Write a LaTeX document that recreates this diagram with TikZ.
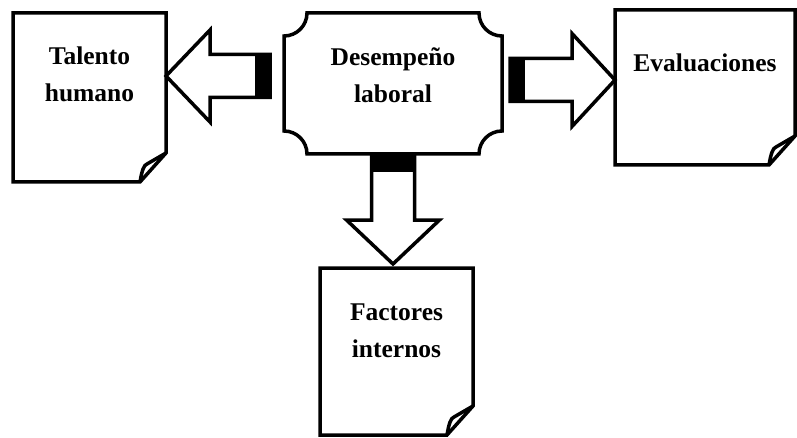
\documentclass[tikz,border=0pt]{standalone}
\usepackage{fontspec}
\setmainfont{Liberation Serif}
\usetikzlibrary{positioning, calc}

\begin{document}
\begin{tikzpicture}[
  x=1pt, y=1pt,
  doc/.style = {minimum width=153pt, minimum height=169pt, inner sep=0pt, outer sep=0pt},
  centro/.style = {minimum width=218pt, minimum height=141pt, inner sep=0pt, outer sep=0pt},
  doctext/.style = {align=center, font=\fontsize{25.5}{37}\selectfont\bfseries},
  borde/.style = {draw, line width=3.5pt, line join=miter},
  flecha/.style = {draw, fill=white, line width=3.5pt, line join=miter},
  tope/.style = {fill=black}
]
  \useasboundingbox (0,0) rectangle (797,437);

  % Central block
  \node[centro, label={[doctext, yshift=8.5pt]center:Desempeño\\laboral}] (desempeno) at (393,353.5) {};
  \draw[borde] ([xshift=23]desempeno.north west) -- ([xshift=-23]desempeno.north east)
    arc[start angle=180, end angle=270, radius=23pt] -- ([yshift=23]desempeno.south east)
    arc[start angle=90, end angle=180, radius=23pt] -- ([xshift=23]desempeno.south west)
    arc[start angle=0, end angle=90, radius=23pt] -- ([yshift=-23]desempeno.north west)
    arc[start angle=270, end angle=360, radius=23pt] -- cycle;

  % Documents
  \node[doc, left=118pt of desempeno, yshift=-14pt,
        label={[doctext, yshift=23.5pt]center:Talento\\humano}] (talento) {};
  \node[doc, minimum width=180pt, minimum height=155pt, right=113pt of desempeno, yshift=-4pt,
        label={[doctext, yshift=24.5pt]center:Evaluaciones}] (evaluaciones) {};
  \node[doc, minimum height=167pt, below=114pt of desempeno, xshift=3.5pt,
        label={[doctext, yshift=21pt]center:Factores\\internos}] (factores) {};

  \foreach \n in {talento, evaluaciones, factores} {
    \draw[borde] (\n.north west) -- (\n.north east) -- ([yshift=29]\n.south east)
      -- ([xshift=-26]\n.south east) -- (\n.south west) -- cycle;
    \draw[borde] ([xshift=-26]\n.south east) .. controls ([xshift=-24,yshift=12]\n.south east)
      and ([xshift=-22,yshift=17]\n.south east) .. ([xshift=-19,yshift=18]\n.south east)
      -- ([yshift=29]\n.south east);
  }

  % Arrow to talento
  \coordinate (l1) at ($(desempeno.west)+(-14,7.5)$);
  \coordinate (l2) at (talento.east |- l1);
  \draw[flecha] (l2) -- ++(44,46) |- ($(l1)+(0,21.5)$) -- ($(l1)+(0,-21.5)$)
    -| ($(l2)+(44,-46)$) -- cycle;
  \fill[tope] ($(l1)+(-15,21.5)$) rectangle ($(l1)+(0,-21.5)$);

  % Arrow to evaluaciones
  \coordinate (r1) at ($(desempeno.east)+(8,3.5)$);
  \coordinate (r2) at (evaluaciones.west |- r1);
  \draw[flecha] (r2) -- ++(-43,46.5) |- ($(r1)+(0,21.5)$) -- ($(r1)+(0,-21.5)$)
    -| ($(r2)+(-43,-46.5)$) -- cycle;
  \fill[tope] ($(r1)+(0,21.5)$) rectangle ($(r1)+(15,-21.5)$);

  % Arrow to factores
  \coordinate (d1) at (desempeno.south);
  \coordinate (d2) at ($(factores.north -| d1)+(0,4)$);
  \draw[flecha] (d2) -- ++(46.5,44) -| ($(d1)+(21.5,0)$) -- ($(d1)+(-21.5,0)$)
    |- ($(d2)+(-46.5,44)$) -- cycle;
  \fill[tope] ($(d1)+(-21.5,0)$) rectangle ($(d1)+(21.5,-18)$);

\end{tikzpicture}
\end{document}
